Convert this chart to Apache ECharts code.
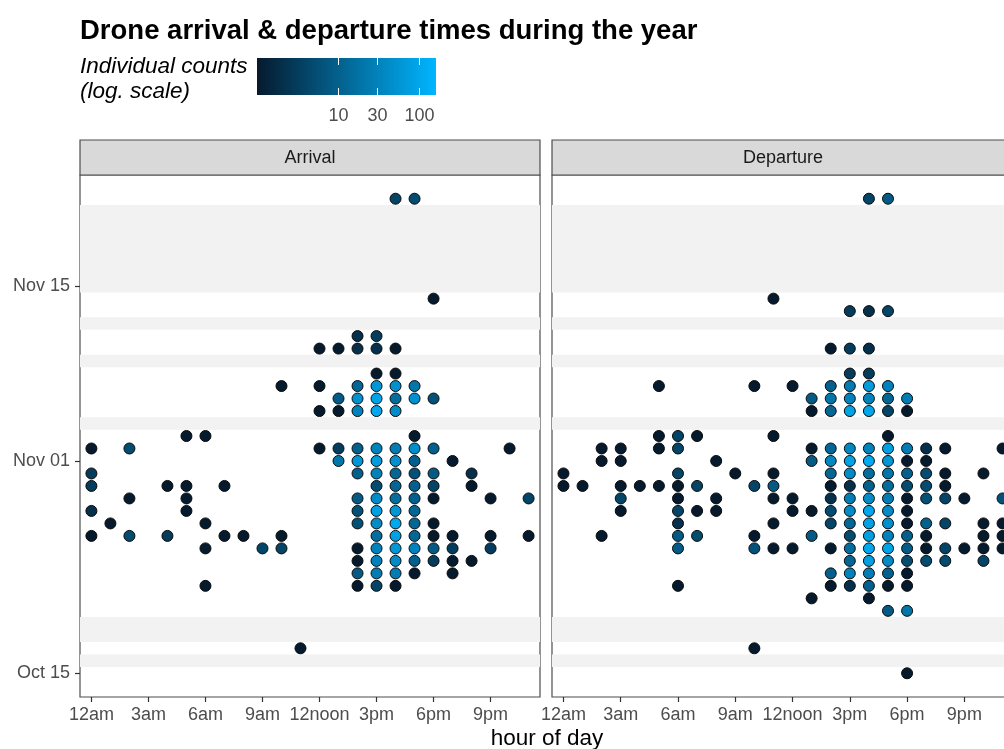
<!DOCTYPE html>
<html>
<head>
<meta charset="utf-8">
<title>Drone arrival & departure times during the year</title>
<script src="https://cdn.jsdelivr.net/npm/echarts@6/dist/echarts.min.js"></script>
<style>
  html, body { margin: 0; padding: 0; background: #fff; overflow: hidden; }
  #chart { width: 1020px; height: 749px; }
</style>
</head>
<body>
<div id="chart"></div>
<script>
// ---- data -------------------------------------------------------------
// Each row: [date, [[hour of day, individual count], ...]]
const arrivalRows = [
  ['2017-11-22', [[16,4],[17,5]]],
  ['2017-11-14', [[18,1]]],
  ['2017-11-11', [[14,2],[15,3]]],
  ['2017-11-10', [[12,1],[13,1],[14,2],[15,2],[16,1]]],
  ['2017-11-08', [[15,1],[16,1]]],
  ['2017-11-07', [[10,1],[12,1],[14,12],[15,60],[16,50],[17,20]]],
  ['2017-11-06', [[13,8],[14,50],[15,90],[16,15],[17,50],[18,6]]],
  ['2017-11-05', [[12,1],[13,1],[14,30],[15,100],[16,40]]],
  ['2017-11-03', [[5,1],[6,1],[17,1]]],
  ['2017-11-02', [[0,1],[2,5],[12,1],[13,3],[14,10],[15,30],[16,25],[17,45],[18,10],[22,1]]],
  ['2017-11-01', [[13,20],[14,60],[15,70],[16,50],[17,10],[19,1]]],
  ['2017-10-31', [[0,3],[14,10],[15,30],[16,12],[17,6],[18,8],[20,2]]],
  ['2017-10-30', [[0,3],[4,1],[5,1],[7,1],[15,5],[16,12],[17,10],[18,4],[20,1]]],
  ['2017-10-29', [[2,1],[5,1],[14,8],[15,40],[16,15],[17,10],[18,1],[21,1],[23,4]]],
  ['2017-10-28', [[0,2],[5,1],[14,6],[15,80],[16,60],[17,12]]],
  ['2017-10-27', [[1,1],[6,1],[14,6],[15,40],[16,100],[17,12],[18,1]]],
  ['2017-10-26', [[0,1],[2,5],[4,3],[7,1],[8,1],[10,1],[15,15],[16,80],[17,12],[18,1],[19,1],[21,1],[23,1]]],
  ['2017-10-25', [[6,1],[9,4],[10,4],[14,1],[15,30],[16,60],[17,30],[18,8],[19,3],[21,3]]],
  ['2017-10-24', [[14,1],[15,30],[16,40],[17,10],[18,3],[19,1],[20,1]]],
  ['2017-10-23', [[14,8],[15,25],[16,25],[17,1],[19,1]]],
  ['2017-10-22', [[6,1],[14,1],[15,4],[16,1]]],
  ['2017-10-17', [[11,1]]]
];

const departureRows = [
  ['2017-11-22', [[16,4],[17,8]]],
  ['2017-11-14', [[11,1]]],
  ['2017-11-13', [[15,3],[16,2],[17,4]]],
  ['2017-11-10', [[14,1],[15,3],[16,2]]],
  ['2017-11-08', [[15,3],[16,3]]],
  ['2017-11-07', [[5,1],[10,1],[12,1],[14,10],[15,25],[16,70],[17,30]]],
  ['2017-11-06', [[13,8],[14,20],[15,30],[16,30],[17,12],[18,25]]],
  ['2017-11-05', [[13,1],[14,12],[15,90],[16,100],[17,4],[18,1]]],
  ['2017-11-03', [[5,1],[6,4],[7,1],[11,1],[17,1]]],
  ['2017-11-02', [[2,1],[3,1],[5,1],[6,4],[13,1],[14,12],[15,35],[16,30],[17,80],[18,25],[19,2],[20,1],[23,1]]],
  ['2017-11-01', [[2,1],[3,1],[8,1],[13,8],[14,35],[15,90],[16,110],[17,60],[18,1],[19,1]]],
  ['2017-10-31', [[0,1],[6,4],[9,1],[11,1],[14,12],[15,40],[16,15],[17,20],[18,10],[19,5],[20,1],[22,1]]],
  ['2017-10-30', [[0,1],[1,1],[3,1],[4,1],[5,1],[6,1],[7,4],[10,4],[11,8],[14,1],[15,2],[16,10],[17,15],[18,5],[19,5],[20,1]]],
  ['2017-10-29', [[3,4],[6,1],[8,1],[11,1],[12,1],[14,2],[15,25],[16,40],[17,25],[18,1],[19,6],[20,4],[21,1],[23,6]]],
  ['2017-10-28', [[3,1],[6,4],[7,1],[8,1],[12,1],[13,1],[14,5],[15,40],[16,100],[17,40],[18,1]]],
  ['2017-10-27', [[6,2],[11,1],[14,4],[15,12],[16,80],[17,45],[18,1],[19,10],[20,4],[22,1],[23,1]]],
  ['2017-10-26', [[2,1],[6,8],[7,5],[10,1],[13,8],[15,5],[16,80],[17,30],[18,10],[19,1],[22,1],[23,1]]],
  ['2017-10-25', [[6,8],[10,6],[11,1],[12,1],[14,1],[15,15],[16,100],[17,90],[18,8],[19,1],[20,4],[21,1],[22,1],[23,1]]],
  ['2017-10-24', [[15,12],[16,80],[17,40],[18,5],[19,5],[20,5],[22,4]]],
  ['2017-10-23', [[14,10],[15,30],[16,25],[17,10],[18,1]]],
  ['2017-10-22', [[6,1],[14,1],[15,2],[16,10],[17,1],[18,1]]],
  ['2017-10-21', [[13,1],[16,1]]],
  ['2017-10-20', [[17,8],[18,20]]],
  ['2017-10-17', [[10,1]]],
  ['2017-10-15', [[18,1]]]
];

// Days shaded in light grey across both panels
const shadedDays = [
  '2017-10-16', '2017-10-18', '2017-10-19', '2017-11-04', '2017-11-09', '2017-11-12',
  '2017-11-15', '2017-11-16', '2017-11-17', '2017-11-18', '2017-11-19', '2017-11-20', '2017-11-21'
];

const panelNames = ['Arrival', 'Departure'];
const hourTicks = [0, 3, 6, 9, 12, 15, 18, 21];
const hourLabels = ['12am', '3am', '6am', '9am', '12noon', '3pm', '6pm', '9pm'];
const dateTicks = ['2017-10-15', '2017-11-01', '2017-11-15'];
const dateTickLabels = ['Oct 15', 'Nov 01', 'Nov 15'];
const countBreaks = [10, 30, 100];
const countMax = 160;

// ---- helpers ----------------------------------------------------------
// dates are placed on a value axis measured in whole days
const day = s => Date.parse(s + 'T00:00:00Z') / 86400000;
const FONT = '"Liberation Sans", Arial, Helvetica, sans-serif';
const LOW = '#061a2e', HIGH = '#00b5ff';

function toPoints(rows) {
  const out = [];
  rows.forEach(([d, cells]) => {
    cells.forEach(([h, n]) => out.push([h, day(d), Math.log10(n), n]));
  });
  return out;
}

const allDates = arrivalRows.concat(departureRows).map(r => day(r[0]));
const dMin = Math.min(...allDates), dMax = Math.max(...allDates);
const pad = (dMax - dMin) * 0.05;
const yMin = dMin - pad, yMax = dMax + pad;

// merge consecutive shaded days into single bands (no seams between them)
const bands = [];
shadedDays.map(day).sort((a, b) => a - b).forEach(d => {
  const last = bands[bands.length - 1];
  if (last && d - 0.5 <= last[1].yAxis + 1e-9) last[1].yAxis = d + 0.5;
  else bands.push([{ yAxis: d - 0.5 }, { yAxis: d + 0.5 }]);
});
const dateTickValues = dateTicks.map(day);

// ---- layout -----------------------------------------------------------
const PANEL_TOP = 175, PANEL_H = 522, STRIP_H = 35;
const panels = [
  { left: 80, width: 460 },
  { left: 552, width: 462 }
];

const chart = echarts.init(document.getElementById('chart'), null, { renderer: 'canvas' });

const grids = panels.map(p => ({
  left: p.left, top: PANEL_TOP, width: p.width, height: PANEL_H,
  show: true, borderColor: '#4d4d4d', borderWidth: 1.2, backgroundColor: 'transparent'
}));

const xAxes = panels.map((p, i) => ({
  type: 'value', gridIndex: i, min: -0.6, max: 23.6, position: 'bottom',
  axisLine: { show: false, onZero: false },
  splitLine: { show: false },
  axisTick: { show: true, inside: false, length: 5, customValues: hourTicks, lineStyle: { color: '#333', width: 1.2 } },
  axisLabel: {
    customValues: hourTicks, margin: 9, color: '#4d4d4d', fontSize: 18, fontFamily: FONT,
    formatter: v => hourLabels[hourTicks.indexOf(v)]
  }
}));

const yAxes = panels.map((p, i) => ({
  type: 'value', gridIndex: i, min: yMin, max: yMax, position: 'left',
  axisLine: { show: false, onZero: false },
  splitLine: { show: false },
  axisTick: { show: i === 0, inside: false, length: 5, customValues: dateTickValues, lineStyle: { color: '#333', width: 1.2 } },
  axisLabel: {
    show: i === 0, customValues: dateTickValues, margin: 10, color: '#4d4d4d', fontSize: 18, fontFamily: FONT,
    formatter: v => {
      const k = dateTickValues.indexOf(v);
      return k >= 0 ? dateTickLabels[k] : '';
    }
  }
}));

const series = [arrivalRows, departureRows].map((rows, i) => ({
  type: 'scatter', name: panelNames[i], xAxisIndex: i, yAxisIndex: i,
  data: toPoints(rows),
  symbol: 'circle', symbolSize: 11,
  itemStyle: { borderColor: '#0a0a0a', borderWidth: 1, opacity: 1 },
  emphasis: { disabled: true },
  markArea: {
    silent: true,
    itemStyle: { color: '#f2f2f2' },
    data: bands
  },
  z: 3
}));

// colour bar for the legend
const BAR = { x: 257, y: 58, w: 179, h: 37 };
const lmax = Math.log10(countMax);
const barX = v => BAR.x + BAR.w * Math.log10(v) / lmax;

const graphics = [
  { type: 'text', x: 80, y: 31, style: { text: 'Drone arrival & departure times during the year', font: 'bold 27.5px ' + FONT, fill: '#000', textVerticalAlign: 'middle' } },
  { type: 'text', x: 80, y: 67, style: { text: 'Individual counts', font: 'italic 22.5px ' + FONT, fill: '#000', textVerticalAlign: 'middle' } },
  { type: 'text', x: 80, y: 92, style: { text: '(log. scale)', font: 'italic 22.5px ' + FONT, fill: '#000', textVerticalAlign: 'middle' } },
  {
    type: 'rect', shape: { x: BAR.x, y: BAR.y, width: BAR.w, height: BAR.h },
    style: { fill: new echarts.graphic.LinearGradient(0, 0, 1, 0, [
      { offset: 0, color: LOW }, { offset: 1, color: HIGH }
    ]) }
  },
  {
    type: 'text', x: (panels[0].left + panels[1].left + panels[1].width) / 2, y: 739,
    style: { text: 'hour of day', font: '22.5px ' + FONT, fill: '#000', textAlign: 'center', textVerticalAlign: 'middle' }
  }
];

countBreaks.forEach(v => {
  const x = Math.round(barX(v)) + 0.5;
  graphics.push({ type: 'line', shape: { x1: x, y1: BAR.y, x2: x, y2: BAR.y + 7 }, style: { stroke: '#fff', lineWidth: 1 } });
  graphics.push({ type: 'line', shape: { x1: x, y1: BAR.y + BAR.h - 7, x2: x, y2: BAR.y + BAR.h }, style: { stroke: '#fff', lineWidth: 1 } });
  graphics.push({ type: 'text', x: x, y: 116, style: { text: String(v), font: '18px ' + FONT, fill: '#4d4d4d', textAlign: 'center', textVerticalAlign: 'middle' } });
});

// facet strips
panels.forEach((p, i) => {
  graphics.push({
    type: 'rect', shape: { x: p.left, y: PANEL_TOP - STRIP_H, width: p.width, height: STRIP_H },
    style: { fill: '#d9d9d9', stroke: '#4d4d4d', lineWidth: 1.2 }
  });
  graphics.push({
    type: 'text', x: p.left + p.width / 2, y: PANEL_TOP - STRIP_H / 2 + 1,
    style: { text: panelNames[i], font: '18px ' + FONT, fill: '#1a1a1a', textAlign: 'center', textVerticalAlign: 'middle' }
  });
});

chart.setOption({
  animation: false,
  backgroundColor: '#fff',
  grid: grids,
  xAxis: xAxes,
  yAxis: yAxes,
  visualMap: {
    show: false, type: 'continuous', dimension: 2, min: 0, max: lmax,
    seriesIndex: [0, 1], inRange: { color: [LOW, HIGH] }
  },
  series: series,
  graphic: graphics
});
</script>
</body>
</html>
